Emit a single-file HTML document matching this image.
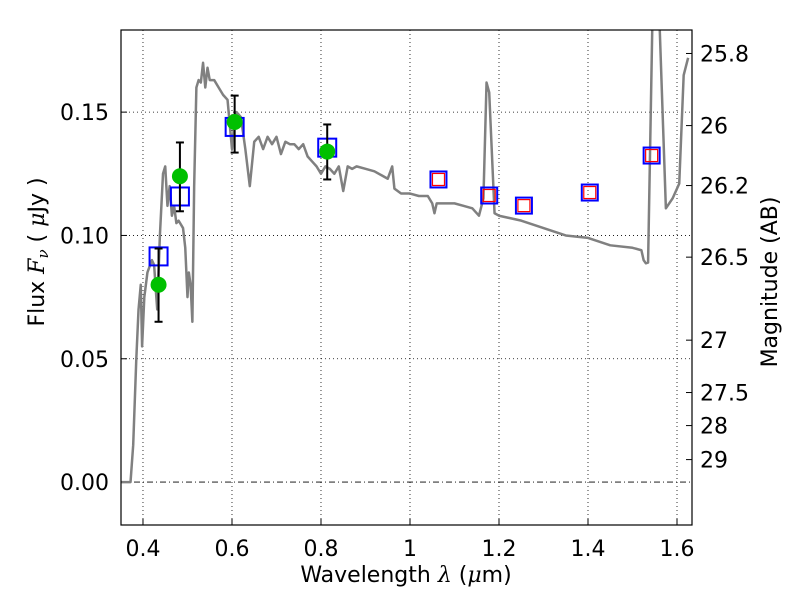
<!DOCTYPE html>
<html><head><meta charset="utf-8"><style>
body{margin:0;background:#fff;}
svg text{font-family:"DejaVu Sans","Liberation Sans",sans-serif;fill:#000;}
</style></head><body>
<svg id="c" width="800" height="600"></svg>
<script>
const specX=[0.35,0.372,0.378,0.385,0.39,0.395,0.398,0.403,0.41,0.42,0.425,0.43,0.432,0.438,0.445,0.45,0.455,0.46,0.465,0.47,0.475,0.48,0.49,0.495,0.5,0.503,0.507,0.511,0.515,0.52,0.525,0.53,0.535,0.54,0.545,0.55,0.56,0.57,0.58,0.59,0.6,0.605,0.61,0.62,0.63,0.64,0.65,0.66,0.67,0.68,0.69,0.7,0.71,0.72,0.73,0.74,0.75,0.76,0.77,0.78,0.79,0.8,0.81,0.82,0.83,0.84,0.85,0.86,0.87,0.88,0.9,0.92,0.94,0.95,0.96,0.965,0.98,1.0,1.02,1.04,1.05,1.055,1.06,1.08,1.1,1.12,1.14,1.155,1.165,1.172,1.178,1.19,1.2,1.25,1.3,1.35,1.4,1.45,1.5,1.52,1.525,1.53,1.535,1.545,1.56,1.575,1.59,1.605,1.615,1.625];
const specF=[0,0,0.015,0.05,0.07,0.08,0.055,0.075,0.085,0.09,0.088,0.075,0.07,0.1,0.125,0.128,0.112,0.12,0.108,0.112,0.105,0.106,0.103,0.095,0.075,0.085,0.08,0.065,0.12,0.16,0.163,0.162,0.17,0.16,0.168,0.163,0.163,0.16,0.157,0.155,0.135,0.145,0.15,0.148,0.135,0.12,0.138,0.14,0.135,0.14,0.137,0.14,0.133,0.138,0.137,0.137,0.135,0.137,0.132,0.13,0.128,0.125,0.128,0.127,0.125,0.128,0.118,0.128,0.127,0.128,0.127,0.126,0.124,0.123,0.128,0.119,0.117,0.117,0.116,0.116,0.113,0.109,0.113,0.113,0.113,0.112,0.111,0.108,0.115,0.162,0.158,0.109,0.108,0.106,0.103,0.1,0.099,0.096,0.095,0.094,0.09,0.0887,0.089,0.19,0.19,0.111,0.115,0.121,0.165,0.172];
const obsX=[0.435,0.483,0.606,0.814];
const obsF=[0.080,0.124,0.146,0.134];
const obsHi=[0.0947,0.1377,0.1567,0.145];
const obsLo=[0.065,0.1098,0.1336,0.1227];
const modX=[0.435,0.483,0.606,0.814];
const modF=[0.0915,0.1158,0.144,0.1356];
const irX=[1.064,1.178,1.256,1.404,1.543];
const irF=[0.1227,0.1162,0.1121,0.1174,0.1324];
const xTicks=[0.4,0.6,0.8,1.0,1.2,1.4,1.6];
const xTickLabels=["0.4","0.6","0.8","1","1.2","1.4","1.6"];
const yTicks=[0,0.05,0.10,0.15];
const yTickLabels=["0.00","0.05","0.10","0.15"];
const magTicks=[25.8,26,26.2,26.5,27,27.5,28,29];
const magLabels=["25.8","26","26.2","26.5","27","27.5","28","29"];

const L=121,R=692,T=30,B=525;
const X0=0.3506,X1=1.6337,Y0=-0.0174,Y1=0.1833;
const sx=v=>L+(v-X0)/(X1-X0)*(R-L);
const sy=v=>B-(v-Y0)/(Y1-Y0)*(B-T);
const NS="http://www.w3.org/2000/svg";
const svg=document.getElementById('c');
function mk(tag,attrs,parent){const e=document.createElementNS(NS,tag);for(const k in attrs)e.setAttribute(k,attrs[k]);(parent||svg).appendChild(e);return e;}
const clip=mk('clipPath',{id:'pc'});mk('rect',{x:L,y:T,width:R-L,height:B-T},clip);

xTicks.forEach((t,i)=>{
 const g=mk('line',{x1:sx(t),x2:sx(t),y1:T,y2:B,stroke:'#000','stroke-width':0.8,'stroke-dasharray':'1,3'});
 
 
 const tk=mk('line',{x1:sx(t),x2:sx(t),y1:B,y2:B-6,stroke:'#000'});
 
 
 const tx=mk('text',{x:sx(t),y:B+31,'font-size':22,'text-anchor':'middle'});tx.textContent=xTickLabels[i];
 
 
});
yTicks.forEach((t,i)=>{
 const g=mk('line',{x1:L,x2:R,y1:sy(t),y2:sy(t),stroke:'#000','stroke-width':0.8,'stroke-dasharray':t===0?'6,3,1,3':'1,3'});
 
 
 const tk=mk('line',{x1:L,x2:L+6,y1:sy(t),y2:sy(t),stroke:'#000'});
 
 
 const tx=mk('text',{x:L-12,y:sy(t)+8,'font-size':22,'text-anchor':'end'});tx.textContent=yTickLabels[i];
 
 
});
magTicks.forEach((m,i)=>{
 const f=Math.pow(10,(23.9-m)/2.5);const y=sy(f);
 const tk=mk('line',{x1:R,x2:R-6,y1:y,y2:y,stroke:'#000'});
 
 
 const tx=mk('text',{x:R+8,y:y+8,'font-size':22});tx.textContent=magLabels[i];
 
 
});

const pl=mk('polyline',{points:specX.map((x,i)=>sx(x)+','+sy(specF[i])).join(' '),fill:'none',stroke:'#808080','stroke-width':2.5,'stroke-linejoin':'round','clip-path':'url(#pc)'});



modX.forEach((x,i)=>{
 const r=mk('rect',{x:sx(x)-9,y:sy(modF[i])-9,width:18,height:18,fill:'none',stroke:'#0000ff','stroke-width':2});
 
 
});
irX.forEach((x,i)=>{
 const r=mk('rect',{x:sx(x)-8,y:sy(irF[i])-8,width:16,height:16,fill:'none',stroke:'#0000ff','stroke-width':2});
 
 
 const r2=mk('rect',{x:sx(x)-6,y:sy(irF[i])-6,width:12,height:12,fill:'none',stroke:'#ff0000','stroke-width':1.2});
 
 
});
obsX.forEach((x,i)=>{
 const g=mk('g',{});
 
 
 const X=sx(x);
 mk('line',{x1:X,x2:X,y1:sy(obsHi[i]),y2:sy(obsLo[i]),stroke:'#000','stroke-width':2},g);
 mk('line',{x1:X-4,x2:X+4,y1:sy(obsHi[i]),y2:sy(obsHi[i]),stroke:'#000','stroke-width':2},g);
 mk('line',{x1:X-4,x2:X+4,y1:sy(obsLo[i]),y2:sy(obsLo[i]),stroke:'#000','stroke-width':2},g);
 mk('circle',{cx:X,cy:sy(obsF[i]),r:8,fill:'#00c000'},g);
});
const fr=mk('rect',{x:L,y:T,width:R-L,height:B-T,fill:'none',stroke:'#000','stroke-width':1.2});


</script>
<svg width="800" height="600" style="position:absolute;left:0;top:0">
<text x="406" y="582" font-size="22" text-anchor="middle" style="font-family:'DejaVu Sans',sans-serif">Wavelength  <tspan font-style="italic" font-family="DejaVu Serif">λ</tspan> (<tspan font-style="italic" font-family="DejaVu Serif">μ</tspan>m)</text>
<text transform="translate(44,252) rotate(-90)" font-size="22" text-anchor="middle" style="font-family:'DejaVu Sans',sans-serif">Flux  <tspan font-style="italic" font-family="DejaVu Serif">F<tspan font-size="15" dy="4">ν</tspan></tspan><tspan dy="-4">  (  </tspan><tspan font-style="italic" font-family="DejaVu Serif">μ</tspan>Jy )</text>
<text transform="translate(777,282) rotate(-90)" font-size="22" text-anchor="middle" style="font-family:'DejaVu Sans',sans-serif">Magnitude (AB)</text>
</svg>
</body></html>
